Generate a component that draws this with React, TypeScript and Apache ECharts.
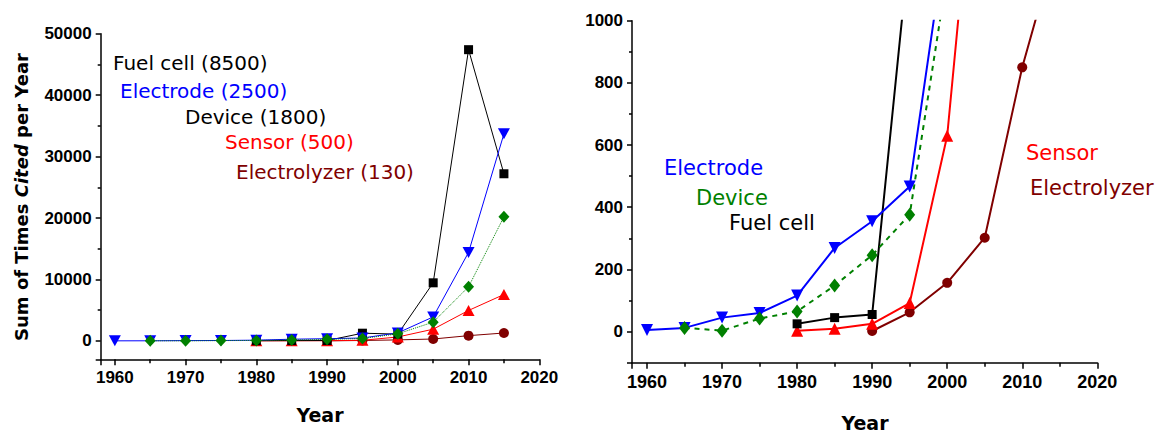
import React, { useEffect, useRef } from "react";
import * as echarts from "echarts";

// ---- data ----
const years = [1960, 1965, 1970, 1975, 1980, 1985, 1990, 1995, 2000, 2005, 2010, 2015];
const fuelCell = [null, null, null, null, 25, 45, 55, 1250, 1100, 9450, 47400, 27200];
const electrode = [5, 12, 45, 60, 116, 269, 355, 467, 1300, 3900, 14400, 33700];
const device = [null, 12, 3, 42, 65, 148, 246, 376, 1150, 3050, 8800, 20200];
const sensor = [null, null, null, null, 3, 9, 25, 92, 630, 1900, 4950, 7550];
const electrolyzer = [null, null, null, null, null, null, 2, 62, 157, 302, 850, 1280];

const leftLegend = ["Fuel cell (8500)", "Electrode (2500)", "Device (1800)", "Sensor (500)", "Electrolyzer (130)"];
const rightLegend = ["Electrode", "Device", "Fuel cell", "Sensor", "Electrolyzer"];

const pairs = (vals: (number | null)[]) =>
  years.map((y, i) => [y, vals[i]]).filter((p) => p[1] !== null);

const seriesDefs = [
  { name: "Electrolyzer", vals: electrolyzer, color: "#800000", symbol: "circle", rot: 0, sL: 10, sR: 10, tL: "solid", tR: "solid" },
  { name: "Sensor", vals: sensor, color: "#ff0000", symbol: "triangle", rot: 0, sL: [12, 11], sR: 12, tL: "solid", tR: "solid" },
  { name: "Fuel cell", vals: fuelCell, color: "#000000", symbol: "rect", rot: 0, sL: 9, sR: 9, tL: "solid", tR: "solid" },
  { name: "Electrode", vals: electrode, color: "#0000ff", symbol: "triangle", rot: 180, sL: [12, 11], sR: 12, tL: "solid", tR: "solid" },
  { name: "Device", vals: device, color: "#008000", symbol: "diamond", rot: 0, sL: [11, 12], sR: [11, 14], tL: "dotted", tR: [5, 5] },
];

const tickFamily = "Liberation Sans, Arial, sans-serif";
const annoFont = "DejaVu Sans, sans-serif";

function makeXAxis(gridIndex: number, fontSize: number) {
  return {
    type: "value",
    gridIndex,
    min: 1958,
    max: 2020,
    splitNumber: 6,
    axisLine: { show: true, onZero: false, lineStyle: { color: "#000", width: 1.5 } },
    axisTick: { show: true, length: 6, lineStyle: { color: "#000", width: 1.5 } },
    minorTick: { show: true, splitNumber: 2, length: 4, lineStyle: { color: "#000", width: 1.5 } },
    splitLine: { show: false },
    minorSplitLine: { show: false },
    axisLabel: {
      fontFamily: tickFamily,
      fontWeight: "bold",
      fontSize,
      color: "#000",
      margin: 10,
      formatter: (v: number) => (v % 10 === 0 ? String(v) : ""),
    },
  };
}

function makeYAxis(gridIndex: number, min: number, max: number, step: number, fontSize: number) {
  return {
    type: "value",
    gridIndex,
    min,
    max,
    axisLine: { show: true, onZero: false, lineStyle: { color: "#000", width: 1.5 } },
    axisTick: { show: true, length: 5, lineStyle: { color: "#000", width: 1.5 } },
    minorTick: { show: true, splitNumber: 2, length: 3, lineStyle: { color: "#000", width: 1.5 } },
    splitLine: { show: false },
    minorSplitLine: { show: false },
    axisLabel: {
      fontFamily: tickFamily,
      fontWeight: "bold",
      fontSize,
      color: "#000",
      margin: 9,
      formatter: (v: number) => (v >= 0 && v % step === 0 ? String(v) : ""),
    },
  };
}

export default function App() {
  const ref = useRef<HTMLDivElement>(null);
  useEffect(() => {
    document.body.style.margin = "0";
    if (!ref.current) return;
    const chart = echarts.init(ref.current, undefined, { renderer: "svg" });

    const series: any[] = [];
    seriesDefs.forEach((d) => {
      series.push({
        type: "line",
        name: d.name + "-L",
        xAxisIndex: 0,
        yAxisIndex: 0,
        data: pairs(d.vals),
        symbol: d.symbol,
        symbolRotate: d.rot,
        symbolSize: d.sL,
        showAllSymbol: true,
        itemStyle: { color: d.color },
        lineStyle: { color: d.color, width: 1, type: d.tL },
        clip: true,
      });
      series.push({
        type: "line",
        name: d.name + "-R",
        xAxisIndex: 1,
        yAxisIndex: 1,
        data: pairs(d.vals),
        symbol: d.symbol,
        symbolRotate: d.rot,
        symbolSize: d.sR,
        showAllSymbol: true,
        itemStyle: { color: d.color },
        lineStyle: { color: d.color, width: 2, type: d.tR },
        clip: true,
      });
    });

    const leftColors = ["#000000", "#0000ff", "#000000", "#ff0000", "#800000"];
    const leftPos = [[113, 63], [120, 91], [185, 117], [225, 142], [236, 172]];
    const rightColors = ["#0000ff", "#008000", "#000000", "#ff0000", "#800000"];
    const rightPos = [[664, 168], [696, 198], [729, 223], [1026, 153], [1030, 188]];

    const graphics: any[] = [];
    leftLegend.forEach((t, i) =>
      graphics.push({
        type: "text",
        x: leftPos[i][0],
        y: leftPos[i][1],
        style: { text: t, fill: leftColors[i], font: `20px ${annoFont}`, verticalAlign: "middle", align: "left" },
      })
    );
    rightLegend.forEach((t, i) =>
      graphics.push({
        type: "text",
        x: rightPos[i][0],
        y: rightPos[i][1],
        style: { text: t, fill: rightColors[i], font: `21px ${annoFont}`, verticalAlign: "middle", align: "left" },
      })
    );
    graphics.push({
      type: "text",
      x: 320,
      y: 415,
      style: { text: "Year", fill: "#000", font: `bold 19px ${annoFont}`, align: "center", verticalAlign: "middle" },
    });
    graphics.push({
      type: "text",
      x: 865,
      y: 423,
      style: { text: "Year", fill: "#000", font: `bold 19px ${annoFont}`, align: "center", verticalAlign: "middle" },
    });
    graphics.push({
      type: "text",
      x: 21,
      y: 197,
      rotation: Math.PI / 2,
      style: {
        text: "Sum of Times {i|Cited} per Year",
        fill: "#000",
        font: `bold 18px ${annoFont}`,
        align: "center",
        verticalAlign: "middle",
        rich: { i: { fontStyle: "italic", fontWeight: "bold", fontSize: 18, fontFamily: annoFont, fill: "#000" } },
      },
    });

    chart.setOption({
      animation: false,
      backgroundColor: "#fff",
      grid: [
        { left: 100.7, top: 33.7, width: 438.6, height: 325.6 },
        { left: 632, top: 20.7, width: 465.3, height: 342 },
      ],
      xAxis: [makeXAxis(0, 17), makeXAxis(1, 18)],
      yAxis: [makeYAxis(0, -3000, 50000, 10000, 17), makeYAxis(1, -100, 1000, 200, 17)],
      series,
      graphic: graphics,
    });
    return () => chart.dispose();
  }, []);
  return <div ref={ref} style={{ width: 1161, height: 433 }} />;
}
